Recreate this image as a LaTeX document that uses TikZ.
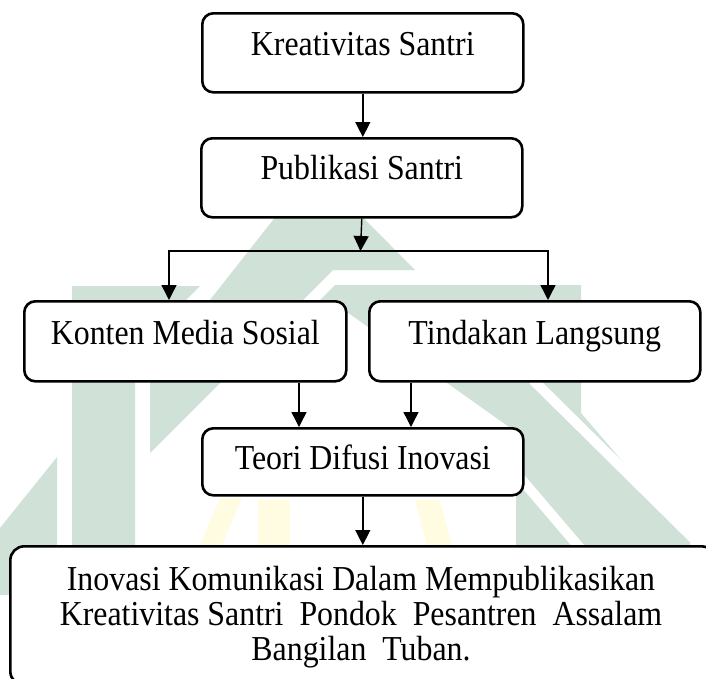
\documentclass[tikz,border=0pt]{standalone}
\usepackage{fontspec}
\setmainfont[FakeStretch=0.91]{Liberation Serif}
\usetikzlibrary{arrows.meta}
\definecolor{wmgreen}{RGB}{208,225,215}
\definecolor{wmyellow}{RGB}{255,252,226}
\begin{document}
\begin{tikzpicture}[x=1pt,y=-1pt,
  box/.style={draw=black, line width=2.6pt, rounded corners=11pt, fill=white, inner sep=0pt, anchor=north west, font=\fontsize{35}{35}\selectfont},
  txt/.style={inner sep=0pt, anchor=base, font=\fontsize{35}{35}\selectfont},
  arr/.style={line width=1.4pt, -{Triangle[width=15pt,length=15pt]}},
  wm/.style={fill=wmgreen, draw=none},
  wy/.style={fill=wmyellow, draw=none}]
\useasboundingbox (0,0) rectangle (706,678);
\clip (0,0) rectangle (706,678);
% watermark (faint logo)
\fill[wm] (0,528) -- (57,457) -- (57,595) -- (0,595) -- cycle;
\fill[wm] (72,286) -- (200,286) -- (186,300) -- (135,300) -- (135,560) -- (72,560) -- cycle;
\fill[wm] (314,168) -- (415,270) -- (333,270) -- (150,453) -- (150,376) -- cycle;
\fill[wm] (335,285) -- (581,285) -- (581,413) -- (690,540) -- (690,560) -- (516,560) -- (516,432) -- (443,380) -- (330,300) -- (320,300) -- cycle;
\draw[white, line width=10pt] (533,380) -- (700,545);
\draw[white, line width=10pt] (516,473) -- (580,548);
\fill[wy] (200,545) -- (222,545) -- (242,498) -- (220,498) -- cycle;
\fill[wy] (258,500) rectangle (290,545);
\fill[wy] (415,500) -- (440,500) -- (452,545) -- (427,545) -- cycle;
% boxes
\node[box, minimum width=321pt, minimum height=79pt, text height=42pt, text depth=37pt] (b1) at (201,12) {Kreativitas Santri};
\node[box, minimum width=321pt, minimum height=79pt, text height=41pt, text depth=38pt] (b2) at (200,137) {Publikasi Santri};
\node[box, minimum width=322pt, minimum height=80pt, text height=43pt, text depth=37pt] (b3) at (23,300) {Konten Media Sosial};
\node[box, minimum width=331pt, minimum height=80pt, text height=43pt, text depth=37pt] (b4) at (368,300) {Tindakan Langsung};
\node[box, minimum width=321pt, minimum height=67pt, text height=41pt, text depth=26pt] (b5) at (201,427) {Teori Difusi Inovasi};
\node[box, minimum width=705pt, minimum height=139pt, rounded corners=14pt] (b6) at (9,545) {};
\node[txt] (l1) at (361,590) {Inovasi Komunikasi Dalam Mempublikasikan};
\node[txt] (l2) at (361,625) {Kreativitas Santri\ \ Pondok\ \ Pesantren\ \ Assalam};
\node[txt] (l3) at (361,660) {Bangilan\ \ Tuban.};
% connectors
\coordinate (sp) at (360.5,251);
\coordinate (sL) at (169,251);
\coordinate (sR) at (548,251);
\coordinate (k1) at (299,400);
\coordinate (k2) at (411,400);
\draw[arr] (b1.south) -- (b1.south |- b2.north);
\draw[arr] (b2.south) -- (sp);
\draw[arr] (sp) -| (sL |- b3.north);
\draw[arr] (sp) -| (sR |- b4.north);
\draw[arr] (b3.south -| k1) -- (b5.north -| k1);
\draw[arr] (b4.south -| k2) -- (b5.north -| k2);
\draw[arr] (b5.south) -- (b6.north);
\end{tikzpicture}
\end{document}
